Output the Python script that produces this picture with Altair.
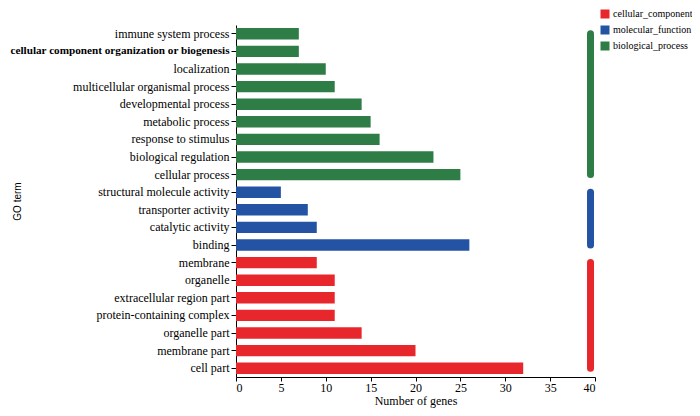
import altair as alt
import pandas as pd

terms = [
    "immune system process",
    "cellular component organization or biogenesis",
    "localization",
    "multicellular organismal process",
    "developmental process",
    "metabolic process",
    "response to stimulus",
    "biological regulation",
    "cellular process",
    "structural molecule activity",
    "transporter activity",
    "catalytic activity",
    "binding",
    "membrane",
    "organelle",
    "extracellular region part",
    "protein-containing complex",
    "organelle part",
    "membrane part",
    "cell part",
]
genes = [7, 7, 10, 11, 14, 15, 16, 22, 25, 5, 8, 9, 26, 9, 11, 11, 11, 14, 20, 32]
categories = (["biological_process"] * 9 + ["molecular_function"] * 4
              + ["cellular_component"] * 7)

cat_order = ["cellular_component", "molecular_function", "biological_process"]
cat_colors = ["#e8272c", "#2453a4", "#2e7c46"]

group_first = ["membrane", "structural molecule activity", "immune system process"]
group_last = ["cell part", "binding", "cellular process"]
group_x = [39.5, 39.5, 39.5]

df = pd.DataFrame({"term": terms, "genes": genes, "category": categories})
groups = pd.DataFrame({"category": cat_order, "first": group_first,
                       "last": group_last, "x": group_x})

SERIF = "Liberation Serif"
BOLD_TERM = "cellular component organization or biogenesis"

color = alt.Color(
    "category:N",
    scale=alt.Scale(domain=cat_order, range=cat_colors),
    legend=alt.Legend(
        title=None, orient="none", legendX=364, legendY=-16,
        symbolType="square", symbolSize=81, symbolStrokeWidth=0,
        labelFont=SERIF, labelFontSize=10, labelColor="#000",
        rowPadding=6, labelOffset=3, labelLimit=200,
    ),
)

yscale = alt.Scale(domain=terms, paddingInner=0.35, paddingOuter=0.175)
y_axis = alt.Axis(title="GO term", tickSize=5, labelPadding=2,
                  labelLimit=400, titleX=-214,
                  labelFont=SERIF, labelColor="#000",
                  titleFont="Liberation Sans", titleFontSize=10,
                  titleFontWeight="normal", titleColor="#000",
                  domainColor="#000", tickColor="#000",
                  labelFontSize=alt.ExprRef(f"datum.value == '{BOLD_TERM}' ? 11.2 : 12"),
                  labelFontWeight=alt.ExprRef(f"datum.value == '{BOLD_TERM}' ? 'bold' : 'normal'"))
x_axis = alt.Axis(values=list(range(0, 41, 5)), title="Number of genes",
                  grid=False, tickSize=4, labelPadding=1, titlePadding=2,
                  labelFont=SERIF, labelFontSize=12, labelColor="#000",
                  titleFont=SERIF, titleFontSize=12, titleColor="#000",
                  titleFontWeight="normal", domainColor="#000", tickColor="#000")

bars = alt.Chart(df).mark_bar().encode(
    x=alt.X("genes:Q", scale=alt.Scale(domain=[0, 40]), axis=x_axis),
    y=alt.Y("term:N", sort=terms, scale=yscale, axis=y_axis),
    color=color,
)

side = alt.Chart(groups).mark_rule(strokeWidth=7, strokeCap="round").encode(
    x=alt.X("x:Q", scale=alt.Scale(domain=[0, 40]), axis=x_axis),
    y=alt.Y("first:N", sort=terms, scale=yscale, axis=y_axis),
    y2="last:N",
    color=alt.Color("category:N", scale=alt.Scale(domain=cat_order, range=cat_colors),
                    legend=None),
)

chart = alt.layer(bars, side).properties(
    width=359, height=352,
    autosize=alt.AutoSizeParams(type="none"),
    padding={"left": 228, "top": 17, "right": 97, "bottom": 31},
).configure_view(stroke=None)

chart.save("out.html", embed_options={"renderer": "svg", "actions": False})
